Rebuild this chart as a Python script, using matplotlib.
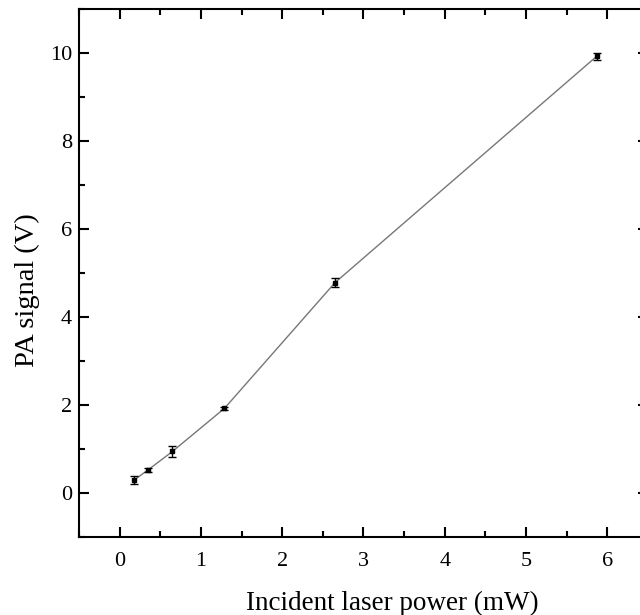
import numpy as np
import matplotlib.pyplot as plt
from matplotlib.ticker import MultipleLocator

plt.rcParams['font.family'] = ['Liberation Serif', 'DejaVu Serif']

power = [0.18, 0.35, 0.65, 1.29, 2.65, 5.87]
signal = [0.29, 0.52, 0.94, 1.92, 4.78, 9.93]
err = [0.08, 0.04, 0.125, 0.04, 0.10, 0.075]

fig = plt.figure(figsize=(6.4, 6.15), dpi=100)
ax = fig.add_axes([0.1234, 0.1273, 0.889, 0.8577])

ax.plot(power, signal, color='#777777', lw=1.0, zorder=1)
ax.errorbar(power, signal, yerr=err, fmt='s', color='black', ms=3,
            ecolor='black', elinewidth=1.0, capsize=3.2, capthick=1.0, zorder=2)

ax.set_xlim(-0.5, 6.5)
ax.set_ylim(-1, 11)
ax.xaxis.set_major_locator(MultipleLocator(1))
ax.xaxis.set_minor_locator(MultipleLocator(0.5))
ax.yaxis.set_major_locator(MultipleLocator(2))
ax.yaxis.set_minor_locator(MultipleLocator(1))

for s in ax.spines.values():
    s.set_linewidth(1.5)
ax.tick_params(which='both', direction='in', top=True, right=True, width=1.5, labelsize=16)
ax.tick_params(which='major', length=7)
ax.tick_params(which='minor', length=4)
ax.tick_params(axis='x', which='major', pad=11)
ax.tick_params(axis='y', which='major', pad=5)

ax.set_xlabel('Incident laser power (mW)', fontsize=19.5)
ax.set_ylabel('PA signal (V)', fontsize=20.5, labelpad=7)
ax.xaxis.set_label_coords(0.55, -0.103)
ax.yaxis.label.set_y(0.468)

fig.savefig('out.png', dpi=100)
